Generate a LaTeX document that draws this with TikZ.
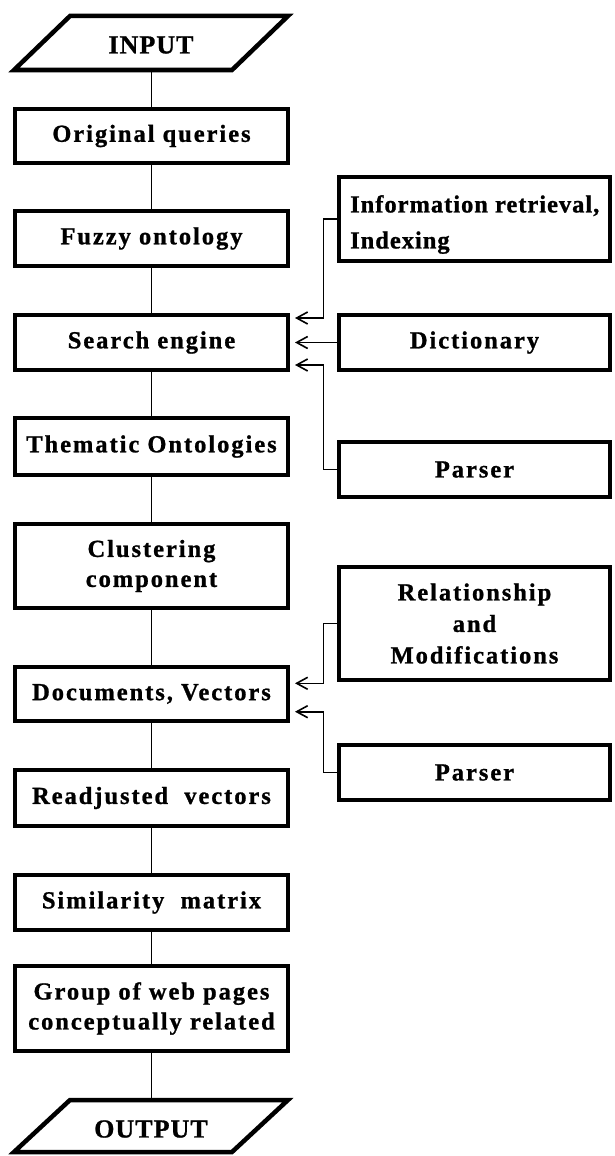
\documentclass[tikz,border=0pt]{standalone}
\usepackage{fontspec}
\setmainfont{Liberation Serif}
\newfontfamily\boxfont{Liberation Serif}[LetterSpace=8,FakeBold=1]
\newfontfamily\infofont{Liberation Serif}[LetterSpace=4,FakeBold=1]
\newfontfamily\iofont{Liberation Serif}[LetterSpace=4,FakeBold=1]
\usetikzlibrary{arrows.meta}
\begin{document}
\begin{tikzpicture}[x=1pt,y=-1pt,
  box/.style={draw, line width=4pt, minimum width=273pt, inner sep=0pt, align=center,
    font=\boxfont\bfseries\fontsize{24.5}{30}\selectfont},
  rbox/.style={box, minimum width=271pt},
  link/.style={line width=1.3pt},
  arr/.style={line width=1.6pt, -{Straight Barb[length=11pt,width=12pt]}, shorten >=5pt},
  para/.style={line width=4.5pt, line join=miter},
  iotext/.style={font=\iofont\bfseries\fontsize{26}{30}\selectfont, inner sep=0pt}
]
\useasboundingbox (0,0) rectangle (614,1156);
% input / output
\draw[para] (70,16) -- (288,16) -- (232,70) -- (14,70) -- cycle;
\node[iotext] (inp) at (151,45) {INPUT};
\coordinate (inb) at (151.5,70);
\draw[para] (70,1100) -- (288,1100) -- (232,1152) -- (14,1152) -- cycle;
\node[iotext] (outp) at (151,1129) {OUTPUT};
\coordinate (outt) at (151.5,1100);
% main column
\node[box, minimum height=54pt] (oq) at (151.5,136) {Original queries};
\node[box, minimum height=55pt] (fo) at (151.5,238.5) {Fuzzy ontology};
\node[box, minimum height=55pt] (se) at (151.5,342.5) {Search engine};
\node[box, minimum height=57pt] (to) at (151.5,446.5) {Thematic Ontologies};
\node[box, minimum height=84pt] (cc) at (151.5,566) {Clustering\\component};
\node[box, minimum height=54pt] (dv) at (151.5,694) {Documents, Vectors};
\node[box, minimum height=56pt] (rv) at (151.5,798) {Readjusted\ \ vectors};
\node[box, minimum height=55pt] (sm) at (151.5,902.5) {Similarity\ \ matrix};
\node[box, minimum height=85pt] (gw) at (151.5,1008.5) {Group of web pages\\conceptually related};
% right column
\node[rbox, minimum height=84pt] (ir) at (474.5,219) {};
\node[anchor=west, align=left, inner sep=0pt,
  font=\infofont\bfseries\fontsize{24.5}{36}\selectfont] (irt) at (350,224.5) {Information retrieval,\\Indexing};
\node[rbox, minimum height=55pt] (di) at (474.5,342.5) {Dictionary};
\node[rbox, minimum height=55pt] (p1) at (474.5,469.5) {Parser};
\node[rbox, minimum height=113pt, font=\boxfont\bfseries\fontsize{24.5}{31.5}\selectfont] (rm) at (474.5,623.5) {Relationship\\and\\Modifications};
\node[rbox, minimum height=55pt] (p2) at (474.5,772.5) {Parser};
% vertical links
\draw[link] (inb) -- (oq.north);
\draw[link] (oq.south) -- (fo.north);
\draw[link] (fo.south) -- (se.north);
\draw[link] (se.south) -- (to.north);
\draw[link] (to.south) -- (cc.north);
\draw[link] (cc.south) -- (dv.north);
\draw[link] (dv.south) -- (rv.north);
\draw[link] (rv.south) -- (sm.north);
\draw[link] (sm.south) -- (gw.north);
\draw[link] (gw.south) -- (outt);
% arrows
\draw[arr] (ir.west) -- ++(-13.5,0) |- ([yshift=24.5pt]se.east);
\draw[arr] (di.west) -- (se.east);
\draw[arr] (p1.west) -- ++(-13.5,0) |- ([yshift=-22.5pt]se.east);
\draw[arr] (rm.west) -- ++(-13.5,0) |- ([yshift=10.7pt]dv.east);
\draw[arr] (p2.west) -- ++(-13.5,0) |- ([yshift=-17.7pt]dv.east);
\end{tikzpicture}
\end{document}
